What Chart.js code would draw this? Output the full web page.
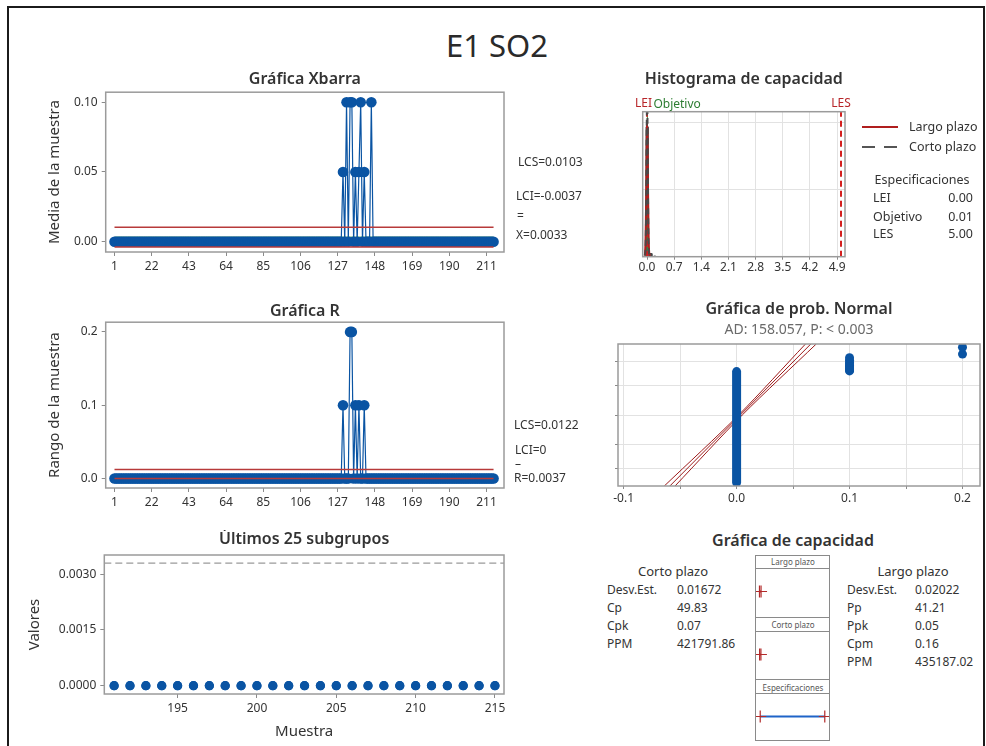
<!DOCTYPE html>
<html lang="es">
<head>
<meta charset="utf-8">
<title>E1 SO2 - Informe de capacidad</title>
<script src="https://cdn.jsdelivr.net/npm/chart.js@4.4.1/dist/chart.umd.min.js"></script>
<style>
  html, body { margin: 0; padding: 0; background: #fff; }
  body { position: relative; width: 986px; height: 746px; overflow: hidden;
         font-family: "Noto Sans", "Open Sans", sans-serif; color: #333; }
  .marco { position: absolute; left: 7px; top: 6px; width: 978px; height: 800px;
           border: 2px solid #1b1b1b; box-sizing: border-box; }
  canvas { position: absolute; }
  .txt { position: absolute; white-space: nowrap; line-height: 1; }
  .caja { position: absolute; border: 1px solid #8a8a8a; box-sizing: border-box; }
  .sep { position: absolute; left: 0; right: 0; height: 0; border-top: 1px solid #8a8a8a; }
</style>
</head>
<body>
<div class="marco"></div>

<canvas id="cXbar" width="500" height="210" style="left:20px;top:70px"></canvas>
<canvas id="cRango" width="500" height="214" style="left:20px;top:302px"></canvas>
<canvas id="cUltimos" width="510" height="216" style="left:10px;top:530px"></canvas>
<canvas id="cHist" width="282" height="210" style="left:600px;top:70px"></canvas>
<canvas id="cProb" width="386" height="214" style="left:600px;top:300px"></canvas>

<div class="caja" style="left:755px;top:555px;width:75px;height:186px">
  <div class="sep" style="top:12px"></div>
  <div class="sep" style="top:61px"></div>
  <div class="sep" style="top:75px"></div>
  <div class="sep" style="top:123px"></div>
  <div class="sep" style="top:137px"></div>
</div>
<canvas id="cCapLargo" width="73" height="47" style="left:756px;top:568px"></canvas>
<canvas id="cCapCorto" width="73" height="47" style="left:756px;top:631px"></canvas>
<canvas id="cCapSpec" width="73" height="47" style="left:756px;top:693px"></canvas>

<script>
// ---- datos: 215 subgrupos de tamaño 2 ----
// medias de subgrupo (1..215)
const xbarValues = [
  0, 0, 0, 0, 0, 0, 0, 0, 0, 0, 0, 0, 0, 0, 0, 0, 0, 0, 0, 0,          // 1-20
  0, 0, 0, 0, 0, 0, 0, 0, 0, 0, 0, 0, 0, 0, 0, 0, 0, 0, 0, 0,          // 21-40
  0, 0, 0, 0, 0, 0, 0, 0, 0, 0, 0, 0, 0, 0, 0, 0, 0, 0, 0, 0,          // 41-60
  0, 0, 0, 0, 0, 0, 0, 0, 0, 0, 0, 0, 0, 0, 0, 0, 0, 0, 0, 0,          // 61-80
  0, 0, 0, 0, 0, 0, 0, 0, 0, 0, 0, 0, 0, 0, 0, 0, 0, 0, 0, 0,          // 81-100
  0, 0, 0, 0, 0, 0, 0, 0, 0, 0, 0, 0, 0, 0, 0, 0, 0, 0, 0, 0,          // 101-120
  0, 0, 0, 0, 0, 0, 0, 0, 0, 0.05, 0, 0.1, 0, 0.1, 0.1, 0, 0.05, 0, 0.05, 0.1, // 121-140
  0, 0.05, 0, 0, 0, 0.1, 0, 0, 0, 0, 0, 0, 0, 0, 0, 0, 0, 0, 0, 0,     // 141-160
  0, 0, 0, 0, 0, 0, 0, 0, 0, 0, 0, 0, 0, 0, 0, 0, 0, 0, 0, 0,          // 161-180
  0, 0, 0, 0, 0, 0, 0, 0, 0, 0, 0, 0, 0, 0, 0, 0, 0, 0, 0, 0,          // 181-200
  0, 0, 0, 0, 0, 0, 0, 0, 0, 0, 0, 0, 0, 0, 0                          // 201-215
];
// rangos de subgrupo (1..215)
const rangeValues = [
  0, 0, 0, 0, 0, 0, 0, 0, 0, 0, 0, 0, 0, 0, 0, 0, 0, 0, 0, 0,
  0, 0, 0, 0, 0, 0, 0, 0, 0, 0, 0, 0, 0, 0, 0, 0, 0, 0, 0, 0,
  0, 0, 0, 0, 0, 0, 0, 0, 0, 0, 0, 0, 0, 0, 0, 0, 0, 0, 0, 0,
  0, 0, 0, 0, 0, 0, 0, 0, 0, 0, 0, 0, 0, 0, 0, 0, 0, 0, 0, 0,
  0, 0, 0, 0, 0, 0, 0, 0, 0, 0, 0, 0, 0, 0, 0, 0, 0, 0, 0, 0,
  0, 0, 0, 0, 0, 0, 0, 0, 0, 0, 0, 0, 0, 0, 0, 0, 0, 0, 0, 0,
  0, 0, 0, 0, 0, 0, 0, 0, 0, 0.1, 0, 0, 0, 0.2, 0.2, 0, 0.1, 0, 0.1, 0,  // 121-140
  0, 0.1, 0, 0, 0, 0, 0, 0, 0, 0, 0, 0, 0, 0, 0, 0, 0, 0, 0, 0,          // 141-160
  0, 0, 0, 0, 0, 0, 0, 0, 0, 0, 0, 0, 0, 0, 0, 0, 0, 0, 0, 0,
  0, 0, 0, 0, 0, 0, 0, 0, 0, 0, 0, 0, 0, 0, 0, 0, 0, 0, 0, 0,
  0, 0, 0, 0, 0, 0, 0, 0, 0, 0, 0, 0, 0, 0, 0
];

const xbarLCS = 0.0103, xbarCenter = 0.0033, xbarLCI = -0.0037;
const rangeLCS = 0.0122, rangeCenter = 0.0037, rangeLCI = 0;

const sampleTicks = [1, 22, 43, 64, 85, 106, 127, 148, 169, 190, 211];
const xbarTicks = [0, 0.05, 0.10];
const rangeTicks = [0, 0.1, 0.2];

// últimos 25 subgrupos (dos observaciones cada uno)
const lastSubgroups = [191, 192, 193, 194, 195, 196, 197, 198, 199, 200, 201, 202, 203,
                       204, 205, 206, 207, 208, 209, 210, 211, 212, 213, 214, 215];
const lastObsA = [0, 0, 0, 0, 0, 0, 0, 0, 0, 0, 0, 0, 0, 0, 0, 0, 0, 0, 0, 0, 0, 0, 0, 0, 0];
const lastObsB = [0, 0, 0, 0, 0, 0, 0, 0, 0, 0, 0, 0, 0, 0, 0, 0, 0, 0, 0, 0, 0, 0, 0, 0, 0];
const lastTicksX = [195, 200, 205, 210, 215];
const lastTicksY = [0, 0.0015, 0.0030];

// histograma (densidad) y curvas normales
const specLabels = ['LEI', 'Objetivo', 'LES'];
const specValues = [0, 0.01, 5];
const histCenters = [0, 0.05, 0.1, 0.15, 0.2];
const histDensity = [19.4, 0, 0.47, 0, 0.09];
const histBinWidth = 0.05;
const histTicks = [0, 0.7, 1.4, 2.1, 2.8, 3.5, 4.2, 4.9];
const histGrid = [10, 20];
const largoCurveX = [-0.06, -0.05, -0.04, -0.03, -0.02, -0.01, 0, 0.0033, 0.01, 0.02, 0.03, 0.04, 0.05, 0.06, 0.07];
const largoCurveY = [0.15, 0.60, 2.0, 5.06, 10.2, 15.9, 19.5, 19.73, 18.7, 14.0, 8.25, 3.76, 1.37, 0.39, 0.08];
const cortoCurveX = [-0.05, -0.04, -0.03, -0.02, -0.01, 0, 0.0033, 0.01, 0.02, 0.03, 0.04, 0.05, 0.06];
const cortoCurveY = [0.15, 0.83, 3.30, 9.08, 17.3, 23.4, 23.86, 22.0, 14.5, 6.6, 2.17, 0.49, 0.08];

// gráfica de probabilidad normal (eje y en puntuaciones z)
const probZeroZ = [-2.94, 1.89];                 // columna de observaciones en 0.0
const probTenthZ = [1.92, 1.96, 2.00, 2.05, 2.10, 2.15, 2.22, 2.29, 2.38, 2.49];
const probFifthZ = [2.65, 2.95];
const probFitZ = [-3.09, 0, 3.09];
const probFitX = [-0.0591, 0.0033, 0.0657];
const probLowX = [-0.0640, 0.0018, 0.0610];
const probHighX = [-0.0545, 0.0050, 0.0705];
const probTicksX = [-0.1, -0.05, 0, 0.05, 0.1, 0.15, 0.2];
const probGridZ = [-2.326, -1.282, 0, 1.282, 2.326];

// capacidad
const cortoLabels = ['Desv.Est.', 'Cp', 'Cpk', 'PPM'];
const cortoValues = ['0.01672', '49.83', '0.07', '421791.86'];
const largoLabels = ['Desv.Est.', 'Pp', 'Ppk', 'Cpm', 'PPM'];
const largoValues = ['0.02022', '41.21', '0.05', '0.16', '435187.02'];
const largoInterval = [-0.0574, 0.0640];
const cortoInterval = [-0.0469, 0.0535];

// ---- estilo ----
const azul = '#0a54a3';
const rojo = '#b73a3a';
const rojoFit = '#9e1b1b';
const verde = '#2e8b3a';
const tinta = '#333';
const fuente = '"Noto Sans", "Open Sans", sans-serif';

Chart.defaults.font.family = fuente;
Chart.defaults.color = tinta;
Chart.defaults.animation = false;
Chart.defaults.layout.autoPadding = false;
Chart.defaults.plugins.legend.display = false;
Chart.defaults.plugins.tooltip.enabled = false;

const marcoPlot = {
  id: 'marcoPlot',
  afterDraw(chart) {
    const { ctx, chartArea: a } = chart;
    ctx.save();
    ctx.strokeStyle = '#9b9b9b';
    ctx.lineWidth = 1.5;
    ctx.strokeRect(a.left, a.top, a.right - a.left, a.bottom - a.top);
    ctx.restore();
  }
};

const fixTicks = values => s => { s.ticks = values.map(v => ({ value: v })); };
const fixWidth = w => s => { s.width = w; };
const fixHeight = h => s => { s.height = h; };
const pts = (xs, ys) => xs.map((x, i) => ({ x, y: ys[i] }));

function texto(t, x, y, o = {}) {
  const d = document.createElement('div');
  d.className = 'txt';
  d.textContent = t;
  d.style.left = x + 'px';
  d.style.top = y + 'px';
  d.style.fontSize = (o.size || 12) + 'px';
  if (o.color) d.style.color = o.color;
  if (o.weight) d.style.fontWeight = o.weight;
  const tx = o.align === 'center' ? '-50%' : o.align === 'right' ? '-100%' : '0';
  d.style.transform = `translate(${tx}, -50%)`;
  document.body.appendChild(d);
  return d;
}

const tituloFont = { size: 16, weight: '600' };
const ejeFont = { size: 15 };
const tickFont = { size: 12 };

// ---- gráficas de control ----
function controlChart(id, opts) {
  const n = opts.values.length;
  const idx = opts.values.map((v, i) => i + 1);
  const hline = y => [{ x: 1, y }, { x: n, y }];
  return new Chart(document.getElementById(id), {
    type: 'line',
    data: {
      datasets: [
        { data: hline(opts.lcs), borderColor: rojo, borderWidth: 1.5, pointRadius: 0 },
        { data: hline(opts.lci), borderColor: rojo, borderWidth: 1.5, pointRadius: 0 },
        { data: pts(idx, opts.values), borderColor: azul, borderWidth: 1.2,
          pointRadius: 5.3, pointBackgroundColor: azul, pointBorderWidth: 0 },
        { data: hline(opts.center), borderColor: verde, borderWidth: 1, pointRadius: 0 }
      ]
    },
    options: {
      responsive: false,
      layout: { padding: { right: opts.padRight } },
      plugins: {
        title: { display: true, text: opts.title, font: tituloFont, color: tinta,
                 fullSize: false, padding: { top: 0, bottom: opts.titlePad } }
      },
      scales: {
        x: {
          type: 'linear', min: -3.97, max: 220.9,
          afterBuildTicks: fixTicks(sampleTicks), afterFit: fixHeight(28),
          ticks: { font: tickFont, padding: 3, maxRotation: 0, autoSkip: false, callback: v => v },
          grid: { drawOnChartArea: false, tickLength: 4, color: '#8a8a8a' },
          border: { display: false }
        },
        y: {
          min: opts.yMin, max: opts.yMax,
          afterBuildTicks: fixTicks(opts.ticks), afterFit: fixWidth(85.7),
          ticks: { font: tickFont, padding: 4, callback: v => v.toFixed(opts.decimals) },
          grid: { drawOnChartArea: false, tickLength: 4, color: '#8a8a8a' },
          border: { display: false },
          title: { display: true, text: opts.yTitle, font: ejeFont, color: tinta, padding: { top: 26, bottom: 0 } }
        }
      }
    },
    plugins: [marcoPlot]
  });
}

controlChart('cXbar', {
  title: 'Gráfica Xbarra', yTitle: 'Media de la muestra', values: xbarValues,
  lcs: xbarLCS, lci: xbarLCI, center: xbarCenter,
  yMin: -0.00737, yMax: 0.10716, ticks: xbarTicks, decimals: 2,
  padRight: 16, titlePad: 3
});

controlChart('cRango', {
  title: 'Gráfica R', yTitle: 'Rango de la muestra', values: rangeValues,
  lcs: rangeLCS, lci: rangeLCI, center: rangeCenter,
  yMin: -0.0129, yMax: 0.2132, ticks: rangeTicks, decimals: 1,
  padRight: 16, titlePad: 1
});

// ---- últimos 25 subgrupos ----
new Chart(document.getElementById('cUltimos'), {
  type: 'line',
  data: {
    datasets: [
      { data: [{ x: 190.38, y: xbarCenter }, { x: 215.57, y: xbarCenter }], borderColor: '#9a9a9a',
        borderWidth: 1.3, borderDash: [7, 4], pointRadius: 0 },
      { data: pts(lastSubgroups, lastObsA), showLine: false, pointRadius: 4.6,
        pointBackgroundColor: azul, pointBorderWidth: 0 },
      { data: pts(lastSubgroups, lastObsB), showLine: false, pointRadius: 4.6,
        pointBackgroundColor: azul, pointBorderWidth: 0 }
    ]
  },
  options: {
    responsive: false,
    layout: { padding: { right: 16 } },
    plugins: {
      title: { display: true, text: 'Últimos 25 subgrupos', font: tituloFont, color: tinta,
               fullSize: false, padding: { top: 0, bottom: 5.8 } }
    },
    scales: {
      x: {
        type: 'linear', min: 190.38, max: 215.57,
        afterBuildTicks: fixTicks(lastTicksX), afterFit: fixHeight(52),
        ticks: { font: tickFont, padding: 3, maxRotation: 0, callback: v => v },
        grid: { drawOnChartArea: false, tickLength: 4, color: '#8a8a8a' },
        border: { display: false },
        title: { display: true, text: 'Muestra', font: ejeFont, color: tinta, padding: { top: 0, bottom: 5 } }
      },
      y: {
        min: -0.000224, max: 0.00352,
        afterBuildTicks: fixTicks(lastTicksY), afterFit: fixWidth(94.3),
        ticks: { font: tickFont, padding: 4, callback: v => v.toFixed(4) },
        grid: { drawOnChartArea: false, tickLength: 4, color: '#8a8a8a' },
        border: { display: false },
        title: { display: true, text: 'Valores', font: ejeFont, color: tinta, padding: { top: 16, bottom: 0 } }
      }
    }
  },
  plugins: [marcoPlot]
});

// ---- histograma de capacidad ----
const histPoly = [];
histCenters.forEach((c, i) => {
  const l = c - histBinWidth / 2, r = c + histBinWidth / 2;
  histPoly.push({ x: l, y: 0 }, { x: l, y: histDensity[i] }, { x: r, y: histDensity[i] }, { x: r, y: 0 });
});
const histYMax = 21.65;
const vline = x => [{ x, y: 0 }, { x, y: histYMax }];

const specLabelPlugin = {
  id: 'specLabel',
  afterDraw(chart) {
    const { ctx, chartArea: a, scales: { x } } = chart;
    const y = a.top - 8;
    ctx.save();
    ctx.font = `12px ${fuente}`;
    ctx.textBaseline = 'middle';
    ctx.fillStyle = '#b8262a';
    ctx.textAlign = 'right';
    ctx.fillText(specLabels[0], x.getPixelForValue(specValues[0]) + 5, y);
    ctx.textAlign = 'center';
    ctx.fillText(specLabels[2], x.getPixelForValue(specValues[2]), y);
    ctx.fillStyle = '#2d7d32';
    ctx.textAlign = 'left';
    ctx.fillText(specLabels[1], x.getPixelForValue(specValues[1]) + 6, y + 1);
    ctx.restore();
  }
};

new Chart(document.getElementById('cHist'), {
  type: 'line',
  data: {
    datasets: [
      { data: pts(cortoCurveX, cortoCurveY), borderColor: '#4a4a4a', borderWidth: 2,
        borderDash: [6, 4], pointRadius: 0, cubicInterpolationMode: 'monotone' },
      { data: pts(largoCurveX, largoCurveY), borderColor: '#b01e1e', borderWidth: 2,
        pointRadius: 0, cubicInterpolationMode: 'monotone' },
      { data: vline(specValues[2]), borderColor: '#d42020', borderWidth: 2, borderDash: [6, 4], pointRadius: 0 },
      { data: vline(specValues[0]), borderColor: '#d42020', borderWidth: 2, borderDash: [6, 4], pointRadius: 0 },
      { data: vline(specValues[1]), borderColor: '#2e9a3a', borderWidth: 1, pointRadius: 0 },
      { data: histPoly, borderColor: '#444', borderWidth: 1, backgroundColor: '#5e5e5e',
        fill: 'origin', pointRadius: 0 }
    ]
  },
  options: {
    responsive: false,
    layout: { padding: { right: 37 } },
    plugins: {
      title: { display: true, text: 'Histograma de capacidad', font: tituloFont, color: tinta,
               fullSize: false, padding: { top: 0, bottom: 22.5 } }
    },
    scales: {
      x: {
        type: 'linear', min: -0.111, max: 5.103,
        afterBuildTicks: fixTicks(histTicks), afterFit: fixHeight(23.3),
        ticks: { font: tickFont, padding: 1, maxRotation: 0, autoSkip: false, callback: v => v.toFixed(1) },
        grid: { color: '#e2e2e2', tickColor: '#8a8a8a', tickLength: 3 },
        border: { display: false }
      },
      y: {
        min: 0, max: histYMax,
        afterBuildTicks: fixTicks(histGrid), afterFit: fixWidth(42.7),
        ticks: { display: false },
        grid: { color: '#e2e2e2', drawTicks: false },
        border: { display: false }
      }
    }
  },
  plugins: [marcoPlot, specLabelPlugin]
});

// ---- gráfica de probabilidad normal ----
new Chart(document.getElementById('cProb'), {
  type: 'line',
  data: {
    datasets: [
      { data: probZeroZ.map(z => ({ x: 0, y: z })), borderColor: azul, borderWidth: 9,
        borderCapStyle: 'round', pointRadius: 0 },
      { data: probTenthZ.map(z => ({ x: 0.1, y: z })), showLine: false, pointRadius: 4.5,
        pointBackgroundColor: azul, pointBorderWidth: 0 },
      { data: probFifthZ.map(z => ({ x: 0.2, y: z })), showLine: false, pointRadius: 4.5,
        pointBackgroundColor: azul, pointBorderWidth: 0 },
      { data: pts(probFitX, probFitZ), borderColor: rojoFit, borderWidth: 1, pointRadius: 0 },
      { data: pts(probLowX, probFitZ), borderColor: rojoFit, borderWidth: 1, pointRadius: 0, tension: 0.3 },
      { data: pts(probHighX, probFitZ), borderColor: rojoFit, borderWidth: 1, pointRadius: 0, tension: 0.3 }
    ]
  },
  options: {
    responsive: false,
    layout: { padding: { right: 6 } },
    plugins: {
      title: { display: true, text: 'Gráfica de prob. Normal', font: tituloFont, color: tinta,
               fullSize: false, padding: { top: 0, bottom: 2.4 } },
      subtitle: { display: true, text: 'AD: 158.057, P: < 0.003', font: { size: 14 }, color: '#6a6a6a',
                  fullSize: false, padding: { top: 0, bottom: 5.6 } }
    },
    scales: {
      x: {
        type: 'linear', min: -0.105, max: 0.2155,
        afterBuildTicks: fixTicks(probTicksX), afterFit: fixHeight(28),
        ticks: { font: tickFont, padding: 2, maxRotation: 0, autoSkip: false,
                 callback: v => Math.abs(v * 10 - Math.round(v * 10)) < 1e-9 ? v.toFixed(1) : '' },
        grid: { color: '#e2e2e2', tickColor: '#8a8a8a', tickLength: 3 },
        border: { display: false }
      },
      y: {
        min: -3.09, max: 3.09,
        afterBuildTicks: fixTicks(probGridZ), afterFit: fixWidth(18),
        ticks: { display: false },
        grid: { color: '#e2e2e2', tickColor: '#8a8a8a', tickLength: 3 },
        border: { display: false }
      }
    }
  },
  plugins: [marcoPlot]
});

// ---- gráfica de capacidad (intervalos frente a especificaciones) ----
function intervalChart(id, interval, lineColor) {
  return new Chart(document.getElementById(id), {
    type: 'line',
    data: {
      datasets: [{
        data: interval.map(x => ({ x, y: 0 })),
        borderColor: lineColor, borderWidth: 2,
        pointStyle: 'cross', pointRadius: 6, pointBorderColor: '#b22a2a', pointBorderWidth: 1.2
      }]
    },
    options: {
      responsive: false,
      layout: { padding: 0, autoPadding: false },
      scales: {
        x: { type: 'linear', display: false, min: -0.327, max: 5.327 },
        y: { display: false, min: -1, max: 1 }
      }
    }
  });
}
intervalChart('cCapLargo', largoInterval, '#b22a2a');
intervalChart('cCapCorto', cortoInterval, '#b22a2a');
intervalChart('cCapSpec', [specValues[0], specValues[2]], '#1f64c8');

// ---- textos ----
texto('E1 SO2', 497, 45, { size: 31, align: 'center', color: '#2a2a2a' });

texto(`LCS=${xbarLCS.toFixed(4)}`, 518, 162);
texto(`LCI=${xbarLCI.toFixed(4)}`, 516, 196);
texto('=', 517, 216);
texto(`X=${xbarCenter.toFixed(4)}`, 516, 235);

texto(`LCS=${rangeLCS.toFixed(4)}`, 514, 425);
texto(`LCI=${rangeLCI}`, 515, 450);
texto('–', 515, 464);
texto(`R=${rangeCenter.toFixed(4)}`, 514, 478);

// leyenda del histograma
const linea = (x, y, w, bg) => {
  const d = document.createElement('div');
  d.style.cssText = `position:absolute;left:${x}px;top:${y}px;width:${w}px;height:2.5px;background:${bg}`;
  document.body.appendChild(d);
};
linea(862, 125.5, 36, '#b01e1e');
linea(862, 145.5, 36, 'repeating-linear-gradient(90deg,#555 0 13px,transparent 13px 22px)');
texto('Largo plazo', 909, 127, { size: 12.5 });
texto('Corto plazo', 909, 147, { size: 12.5 });

texto('Especificaciones', 922, 180, { size: 12.5, align: 'center' });
specLabels.forEach((l, i) => {
  const y = [198, 216.5, 234][i];
  texto(l, 873, y, { size: 12.5 });
  texto(specValues[i].toFixed(2), 973, y, { size: 12.5, align: 'right' });
});

texto('Gráfica de capacidad', 793, 540, { size: 16, weight: 600, align: 'center' });
texto('Corto plazo', 673, 571, { size: 13, align: 'center' });
cortoLabels.forEach((l, i) => {
  const y = 589.5 + i * 18;
  texto(l, 607, y, { size: 12 });
  texto(cortoValues[i], 677, y, { size: 12 });
});
texto('Largo plazo', 913, 571, { size: 13, align: 'center' });
largoLabels.forEach((l, i) => {
  const y = 589.5 + i * 18;
  texto(l, 847, y, { size: 12 });
  texto(largoValues[i], 915, y, { size: 12 });
});
texto('Largo plazo', 793, 562, { size: 8, align: 'center', color: '#555' });
texto('Corto plazo', 793, 625, { size: 8, align: 'center', color: '#555' });
texto('Especificaciones', 793, 688, { size: 8, align: 'center', color: '#555' });
</script>
</body>
</html>
